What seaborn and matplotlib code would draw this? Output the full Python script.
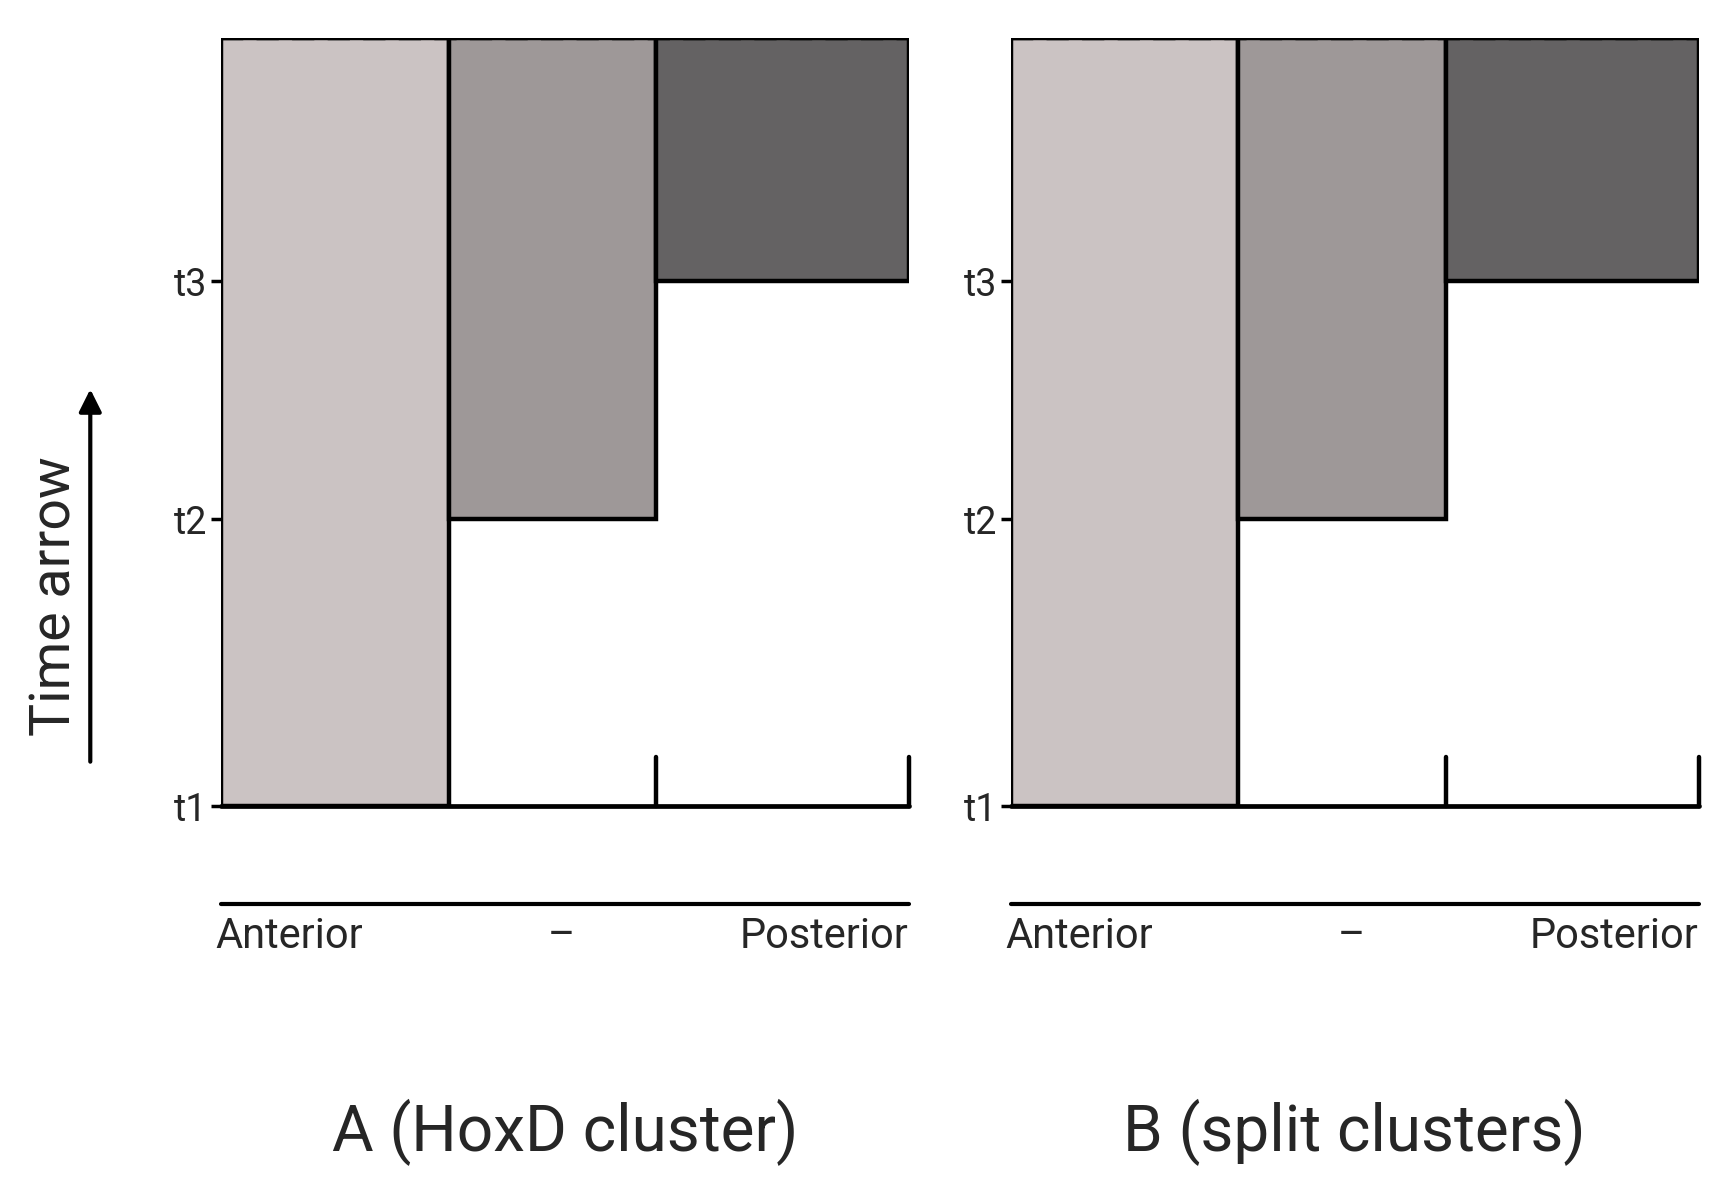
import numpy as np
import matplotlib
matplotlib.use('Agg')
import matplotlib.pyplot as plt
import seaborn as sns

sns.set_theme(style='white')
plt.rcParams['font.family'] = ['Roboto', 'DejaVu Sans']

# segment widths along the cluster (anterior -> posterior)
seg_widths = [205, 187, 228]
# level at which each segment turns on (t1 = 0)
seg_start = [0, 260, 475]
top_level = 695
tick_levels = [0, 260, 475]
tick_labels = ['t1', 't2', 't3']
seg_colors = ['#cbc3c3', '#9e9898', '#646263']
panel_titles = ['A (HoxD cluster)', 'B (split clusters)']
axis_words = ['Anterior', '–', 'Posterior']

fig = plt.figure(figsize=(17.28, 11.93), dpi=100)
lefts = [0.128, 0.585]

for i, left in enumerate(lefts):
    ax = fig.add_axes([left, 0.324, 0.398, 0.644])
    edges = np.concatenate([[0], np.cumsum(seg_widths)])
    for j in range(3):
        ax.bar(edges[j], top_level - seg_start[j], width=seg_widths[j], bottom=seg_start[j],
               align='edge', color=seg_colors[j], edgecolor='black', linewidth=3.2, zorder=2)
    total = edges[-1]
    # dashed top line
    ax.plot([0, total], [top_level, top_level], ls=(0, (5, 3)), color='black', lw=3.2, zorder=3)
    # baseline and small ticks
    ax.plot([0, total], [0, 0], color='black', lw=3.4, zorder=3, clip_on=False)
    for x in edges[2:]:
        ax.plot([x, x], [0, 45], color='black', lw=3.2, zorder=3, clip_on=False)
    ax.set_xlim(0, total)
    ax.set_ylim(0, top_level)
    for s in ax.spines.values():
        s.set_visible(False)
    ax.set_xticks([])
    ax.set_yticks(tick_levels)
    ax.set_yticklabels(tick_labels, fontsize=27)
    ax.tick_params(axis='y', left=True, length=7, width=2.5, color='black', pad=3)

    # position line and labels below the panel
    ax.plot([0, total], [-88, -88], color='black', lw=3, clip_on=False)
    ax.text(-5, -118, axis_words[0], ha='left', va='center', fontsize=30)
    ax.text(total * 0.495, -118, axis_words[1], ha='center', va='center', fontsize=30)
    ax.text(total, -118, axis_words[2], ha='right', va='center', fontsize=30)
    ax.text(total / 2, -295, panel_titles[i], ha='center', va='center', fontsize=46)

    if i == 0:
        ax.annotate('', xy=(-118, 380), xytext=(-118, 38),
                    arrowprops=dict(arrowstyle='-|>', color='black', lw=3, mutation_scale=34),
                    annotation_clip=False)
        ax.text(-150, 190, 'Time arrow', rotation=90, ha='center', va='center', fontsize=40)

fig.savefig('out.png', dpi=100)
